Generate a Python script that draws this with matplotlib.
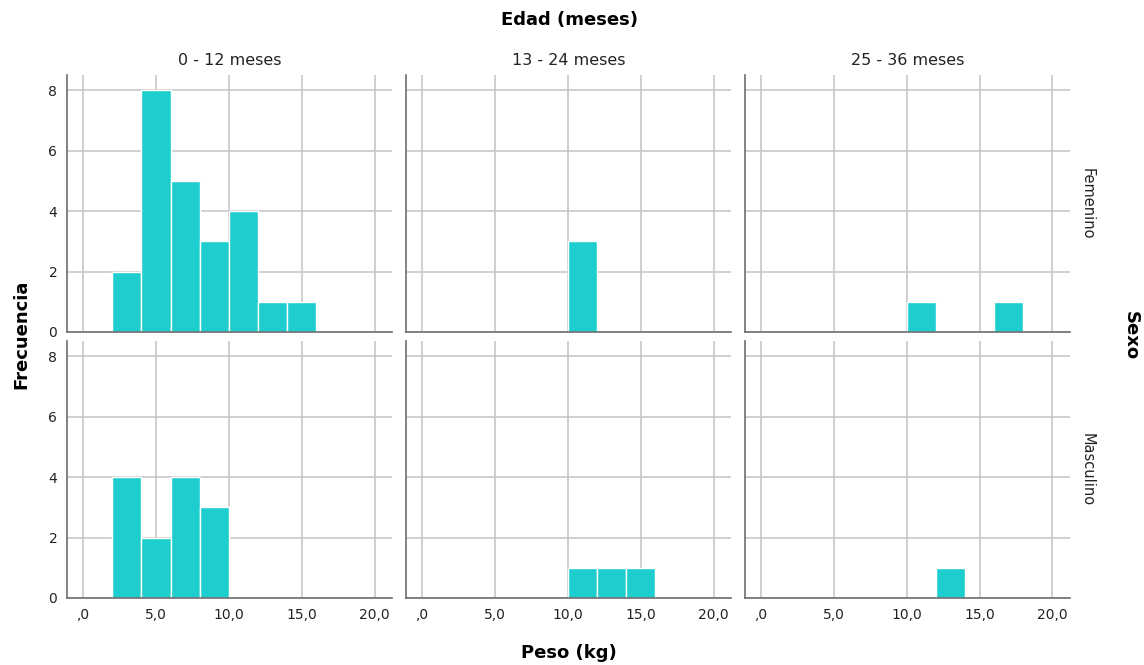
import matplotlib.pyplot as plt
import matplotlib

matplotlib.rcParams["font.family"] = ["DejaVu Sans"]

# bin edges (kg), width 2
bin_left = [0, 2, 4, 6, 8, 10, 12, 14, 16, 18]

age_groups = ["0 - 12 meses", "13 - 24 meses", "25 - 36 meses"]
sexes = ["Femenino", "Masculino"]

# counts per bin for each (sex, age group)
fem_0_12 = [0, 2, 8, 5, 3, 4, 1, 1, 0, 0]
fem_13_24 = [0, 0, 0, 0, 0, 3, 0, 0, 0, 0]
fem_25_36 = [0, 0, 0, 0, 0, 1, 0, 0, 1, 0]
mas_0_12 = [0, 4, 2, 4, 3, 0, 0, 0, 0, 0]
mas_13_24 = [0, 0, 0, 0, 0, 1, 1, 1, 0, 0]
mas_25_36 = [0, 0, 0, 0, 0, 0, 1, 0, 0, 0]

counts = [
    [fem_0_12, fem_13_24, fem_25_36],
    [mas_0_12, mas_13_24, mas_25_36],
]

x_ticks = [0, 5, 10, 15, 20]
x_ticklabels = [",0", "5,0", "10,0", "15,0", "20,0"]
y_ticks = [0, 2, 4, 6, 8]

bar_color = "#1ecece"
grid_color = "#c8c8c8"
spine_color = "#6e6e6e"
text_color = "#222222"

fig = plt.figure(figsize=(11.44, 6.65), dpi=100)

lefts = [0.0586, 0.3549, 0.6512]
width = 0.2841
bottoms = [0.5008, 0.1008]
height = 0.3864

for r in range(2):
    for c in range(3):
        ax = fig.add_axes([lefts[c], bottoms[r], width, height])
        vals = counts[r][c]
        ax.bar(bin_left, vals, width=2, align="edge", color=bar_color,
               edgecolor="white", linewidth=1, zorder=3)
        ax.set_xlim(-1.1, 21.2)
        ax.set_ylim(0, 8.5)
        ax.set_yticks(y_ticks)
        ax.set_xticks(x_ticks)
        ax.grid(True, color=grid_color, linewidth=1.2, zorder=0)
        ax.set_axisbelow(True)
        for s in ["top", "right"]:
            ax.spines[s].set_visible(False)
        for s in ["left", "bottom"]:
            ax.spines[s].set_color(spine_color)
            ax.spines[s].set_linewidth(1.2)
            ax.spines[s].set_zorder(4)
        ax.tick_params(length=0, labelsize=10, colors=text_color, pad=7)
        if c == 0:
            ax.set_yticklabels([str(v) for v in y_ticks])
        else:
            ax.set_yticklabels([])
        if r == 1:
            ax.set_xticklabels(x_ticklabels)
        else:
            ax.set_xticklabels([])
        if r == 0:
            ax.set_title(age_groups[c], fontsize=11.5, color=text_color, pad=7)
        if c == 2:
            ax.text(1.052, 0.5, sexes[r], transform=ax.transAxes, rotation=-90,
                    va="center", ha="center", fontsize=10.5, color=text_color)

fig.text(0.4975, 0.97, "Edad (meses)", ha="center", va="center",
         fontsize=13, fontweight="bold")
fig.text(0.4975, 0.018, "Peso (kg)", ha="center", va="center",
         fontsize=13, fontweight="bold")
fig.text(0.019, 0.498, "Frecuencia", ha="center", va="center", rotation=90,
         fontsize=13, fontweight="bold")
fig.text(0.9886, 0.496, "Sexo", ha="center", va="center", rotation=-90,
         fontsize=13, fontweight="bold")

fig.savefig("out.png", dpi=100)
plt.close(fig)
